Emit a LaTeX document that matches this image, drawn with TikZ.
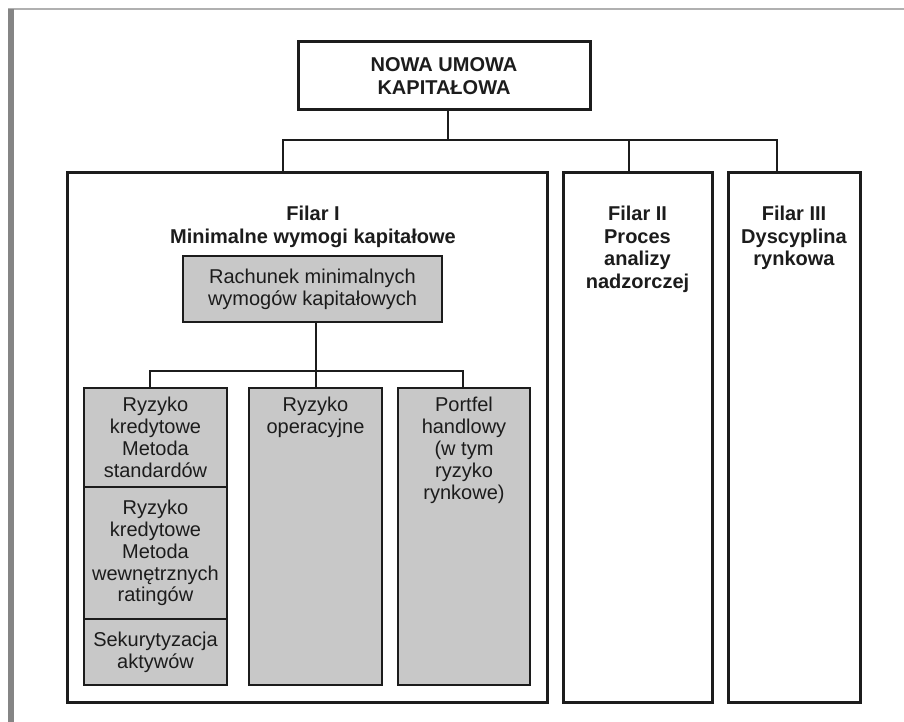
\documentclass[tikz,border=0pt]{standalone}
\usepackage{fontspec}
\setmainfont{Liberation Sans}
\definecolor{ink}{HTML}{1C1C1C}
\definecolor{boxgray}{HTML}{C8C8C8}
\definecolor{frameline}{HTML}{B0B0B0}
\definecolor{framebar}{HTML}{858585}
\begin{document}
\begin{tikzpicture}[x=1pt,y=-1pt,
  every node/.style={text=ink, inner sep=0pt, outer sep=0pt},
  bigbox/.style={draw=ink, line width=3pt},
  graybox/.style={draw=ink, line width=1.3pt, fill=boxgray},
  conn/.style={draw=ink, line width=2pt},
  iconn/.style={draw=ink, line width=1.8pt},
  boldtxt/.style={font=\fontsize{20}{22.6}\selectfont\bfseries, align=center},
  regtxt/.style={font=\fontsize{20}{21.9}\selectfont, align=center}]
\useasboundingbox (0,0) rectangle (904,722);
\fill[white] (0,0) rectangle (904,722);
\draw[line width=1.5pt, frameline] (8,9) -- (904,9);
\fill[framebar] (8,9) rectangle (14,722);
% top
\node[bigbox, boldtxt, minimum width=292pt, minimum height=68pt] (top) at (444,76) {NOWA UMOWA\\KAPITAŁOWA};
% pillars
\node[bigbox, minimum width=480pt, minimum height=529pt, anchor=north west] (f1) at (67,173) {};
\node[bigbox, minimum width=149pt, minimum height=529pt, anchor=north west] (f2) at (563,173) {};
\node[bigbox, minimum width=132pt, minimum height=529pt, anchor=north west] (f3) at (728,173) {};
\node[boldtxt, anchor=north] (f1t) at (313,206) {Filar I\\Minimalne wymogi kapitałowe};
\node[boldtxt, anchor=north] (f2t) at (637.5,206) {Filar II\\Proces\\analizy\\nadzorczej};
\node[boldtxt, anchor=north] (f3t) at (794,206) {Filar III\\Dyscyplina\\rynkowa};
% inner
\node[graybox, regtxt, minimum width=259pt, minimum height=66pt] (rach) at (312.5,289) {Rachunek minimalnych\\wymogów kapitałowych};
\node[graybox, regtxt, minimum width=143pt, minimum height=99pt, anchor=north west] (k1) at (84,388) {Ryzyko\\kredytowe\\Metoda\\standardów};
\node[graybox, regtxt, minimum width=143pt, minimum height=132pt, anchor=north west] (k2) at (84,487) {Ryzyko\\kredytowe\\Metoda\\wewnętrznych\\ratingów};
\node[graybox, regtxt, minimum width=143pt, minimum height=66pt, anchor=north west] (k3) at (84,619) {Sekurytyzacja\\aktywów};
\node[graybox, minimum width=133pt, minimum height=297pt, anchor=north west] (op) at (249,388) {};
\node[regtxt, anchor=north] (opt) at ([yshift=-9.5pt]op.north) {Ryzyko\\operacyjne};
\node[graybox, minimum width=132pt, minimum height=297pt, anchor=north west] (pf) at (398,388) {};
\node[regtxt, anchor=north] (pft) at ([yshift=-9.5pt]pf.north) {Portfel\\handlowy\\(w tym\\ryzyko\\rynkowe)};
% connectors top
\coordinate (jt) at (448,140);
\coordinate (jl) at (283,140);
\coordinate (jm) at (629,140);
\coordinate (jr) at (777,140);
\draw[conn] ([xshift=4pt]top.south) -- (jt);
\draw[conn] (jl |- f1.north) -- (jl) -- (jr) -- (jr |- f3.north);
\draw[conn] (jm) -- (jm |- f2.north);
% connectors inner
\coordinate (il) at (150,371);
\coordinate (im) at (316,371);
\coordinate (ir) at (463,371);
\draw[iconn] ([xshift=3.5pt]rach.south) -- (im);
\draw[iconn] (il |- k1.north) -- (il) -- (ir) -- (ir |- pf.north);
\draw[iconn] (im) -- (im |- op.north);
\end{tikzpicture}
\end{document}
